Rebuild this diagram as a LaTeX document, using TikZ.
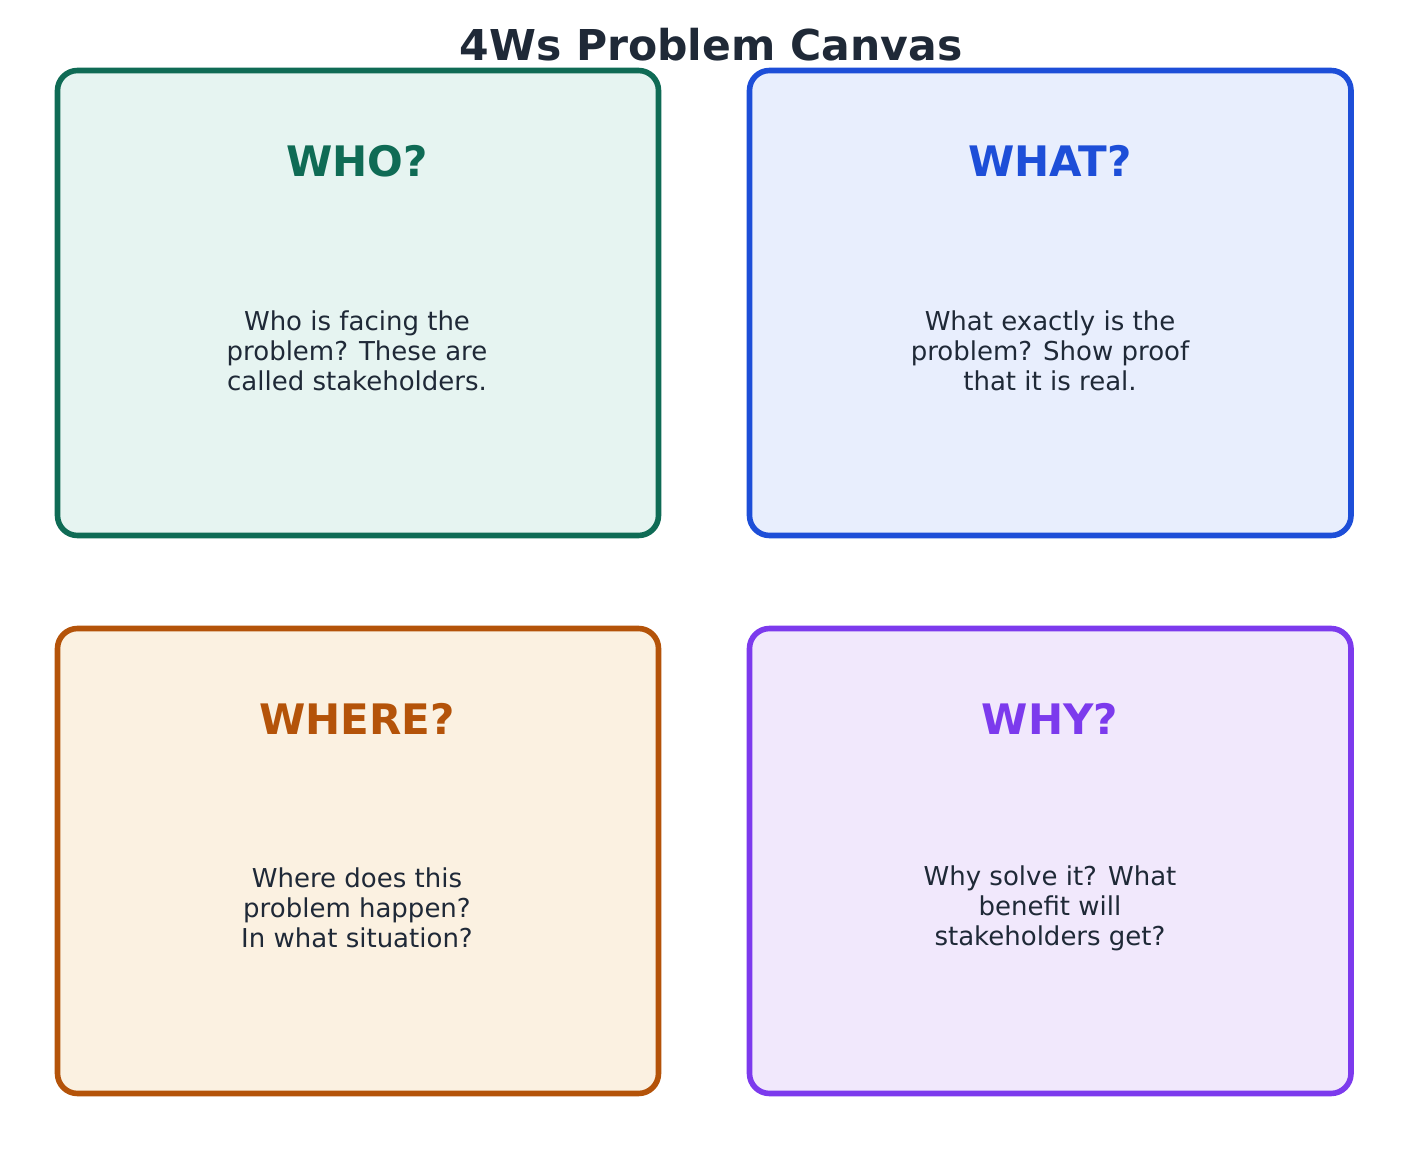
\documentclass[tikz,border=0pt]{standalone}
\usepackage{fontspec}
\setmainfont{DejaVu Sans}
\definecolor{titlec}{HTML}{1F2937}
\definecolor{bodyc}{HTML}{1F2937}
\definecolor{gline}{HTML}{0F6B55}\definecolor{gfill}{HTML}{E6F4F1}
\definecolor{bline}{HTML}{1D4ED8}\definecolor{bfill}{HTML}{E8EEFD}
\definecolor{oline}{HTML}{B45309}\definecolor{ofill}{HTML}{FBF1E1}
\definecolor{pline}{HTML}{7C3AED}\definecolor{pfill}{HTML}{F1E8FC}
\tikzset{
  card/.style={line width=4.2pt, rounded corners=15pt},
  headtext/.style={font=\fontsize{31.5}{36}\selectfont\bfseries, anchor=center},
  bodytext/.style={font=\fontsize{19.5}{22.5}\selectfont, text=bodyc, align=center, anchor=center},
}
\begin{document}
\begin{tikzpicture}[x=0.75pt,y=-0.75pt]
\useasboundingbox (0,0) rectangle (1422,1151);
\node[font=\fontsize{31.9}{38}\selectfont\bfseries, text=titlec] (title) at (711,45) {4Ws Problem Canvas};
% WHO
\draw[card, draw=gline, fill=gfill] (57.5,70.5) rectangle (658.5,535.5);
\node[headtext, text=gline] (who) at (357,161) {WHO?};
\node[bodytext] (whob) at (357,351) {Who is facing the\\problem? These are\\called stakeholders.};
% WHAT
\draw[card, draw=bline, fill=bfill] (749.5,70.5) rectangle (1351,535.5);
\node[headtext, text=bline] (what) at (1050,161) {WHAT?};
\node[bodytext] (whatb) at (1050,351) {What exactly is the\\problem? Show proof\\that it is real.};
% WHERE
\draw[card, draw=oline, fill=ofill] (57.5,628.5) rectangle (658.5,1093.5);
\node[headtext, text=oline] (where) at (357,719) {WHERE?};
\node[bodytext] (whereb) at (357,908) {Where does this\\problem happen?\\In what situation?};
% WHY
\draw[card, draw=pline, fill=pfill] (749.5,628.5) rectangle (1351,1093.5);
\node[headtext, text=pline] (why) at (1050,719) {WHY?};
\node[bodytext] (whyb) at (1050,908) {Why solve it? What\\benefit will\\stakeholders get?};
\end{tikzpicture}
\end{document}
